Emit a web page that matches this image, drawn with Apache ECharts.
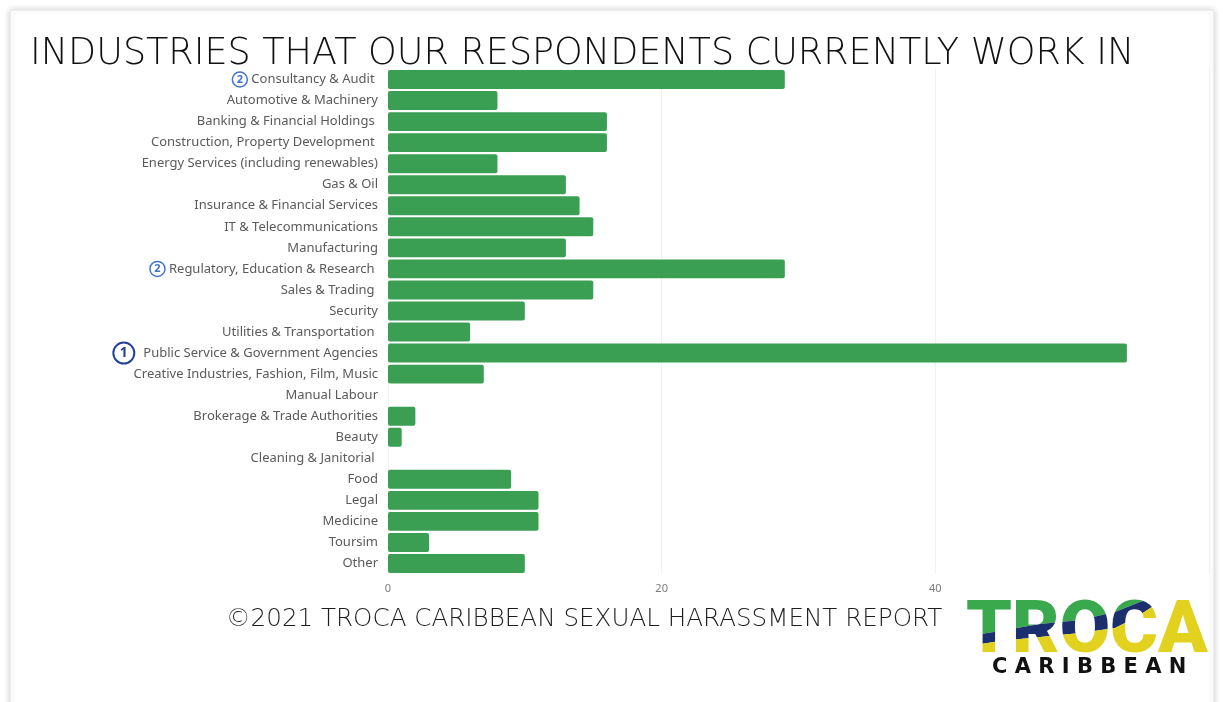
<!DOCTYPE html>
<html>
<head>
<meta charset="utf-8">
<title>Industries that our respondents currently work in</title>
<script src="https://cdn.jsdelivr.net/npm/echarts@6/dist/echarts.min.js"></script>
<style>
  html, body { margin: 0; padding: 0; background: #ffffff; }
  #chart { width: 1223px; height: 702px; }
</style>
</head>
<body>
<div id="chart"></div>
<script>
// Industries (top to bottom as listed in the report)
const industries = [
  'Consultancy & Audit ',
  'Automotive & Machinery',
  'Banking & Financial Holdings ',
  'Construction, Property Development ',
  'Energy Services (including renewables)',
  'Gas & Oil',
  'Insurance & Financial Services',
  'IT & Telecommunications',
  'Manufacturing',
  'Regulatory, Education & Research ',
  'Sales & Trading ',
  'Security',
  'Utilities & Transportation ',
  'Public Service & Government Agencies',
  'Creative Industries, Fashion, Film, Music',
  'Manual Labour',
  'Brokerage & Trade Authorities',
  'Beauty',
  'Cleaning & Janitorial ',
  'Food',
  'Legal',
  'Medicine',
  'Toursim',
  'Other'
];

// Number of respondents per industry
const respondents = [29, 8, 16, 16, 8, 13, 14, 15, 13, 29, 15, 10, 6, 54, 7, 0, 2, 1, 0, 9, 11, 11, 3, 10];

// Rank badges shown beside the leading industries (0 = no badge)
const rankBadges = [2, 0, 0, 0, 0, 0, 0, 0, 0, 2, 0, 0, 0, 1, 0, 0, 0, 0, 0, 0, 0, 0, 0, 0];

// Value axis ticks
const xTickValues = [0, 20, 40, 60];
const xTickLabels = ['0', '20', '40', ''];

const BAR_GREEN = '#3a9f53';

const chart = echarts.init(document.getElementById('chart'), null, { renderer: 'canvas' });

const option = {
  backgroundColor: '#ffffff',
  animation: false,
  title: {
    text: 'INDUSTRIES THAT OUR RESPONDENTS CURRENTLY WORK IN',
    left: 30,
    top: 36,
    padding: 0,
    textStyle: {
      fontFamily: 'DejaVu Sans',
      fontWeight: 200,
      fontSize: 36.5,
      color: '#111111'
    }
  },
  grid: {
    left: 388,
    right: 14,
    top: 69,
    height: 505,
    containLabel: false
  },
  xAxis: {
    type: 'value',
    min: xTickValues[0],
    max: xTickValues[xTickValues.length - 1],
    interval: xTickValues[1] - xTickValues[0],
    axisLine: { show: false },
    axisTick: { show: false },
    splitLine: { show: true, lineStyle: { color: '#f1f1f1', width: 1 } },
    axisLabel: {
      margin: 9,
      color: '#7a7a7a',
      fontFamily: 'Noto Sans',
      fontSize: 11,
      formatter: function (v) {
        const i = xTickValues.indexOf(v);
        return i >= 0 ? xTickLabels[i] : '';
      }
    }
  },
  yAxis: {
    type: 'category',
    inverse: true,
    data: industries,
    axisLine: { show: false },
    axisTick: { show: false },
    splitLine: { show: false },
    axisLabel: {
      margin: 10,
      color: '#5a5a5a',
      fontFamily: 'Noto Sans',
      fontSize: 13,
      formatter: function (value, index) {
        const badge = rankBadges[index];
        if (badge === 1) return '{r1|1}{gap1|}' + value;
        if (badge === 2) return '{r2|2}{gap2|}' + value;
        return value;
      },
      rich: {
        r1: {
          width: 21, height: 21, lineHeight: 21,
          align: 'center', verticalAlign: 'middle',
          borderColor: '#23419a', borderWidth: 2, borderRadius: 12,
          color: '#23419a', fontSize: 14, fontWeight: 'bold',
          fontFamily: 'Noto Sans'
        },
        gap1: { width: 9 },
        r2: {
          width: 15, height: 15, lineHeight: 15,
          align: 'center', verticalAlign: 'middle',
          borderColor: '#4174cc', borderWidth: 1.5, borderRadius: 9,
          color: '#4174cc', fontSize: 11, fontWeight: 'bold',
          fontFamily: 'Noto Sans'
        },
        gap2: { width: 4 }
      }
    }
  },
  series: [{
    type: 'bar',
    data: respondents,
    barCategoryGap: '10%',
    itemStyle: { color: BAR_GREEN, borderRadius: 2 },
    emphasis: { disabled: true }
  }],
  graphic: [
    {
      // card outline around the page
      type: 'rect',
      silent: true,
      z: -10,
      shape: { x: 10, y: 10, width: 1204, height: 700, r: 2 },
      style: {
        fill: '#ffffff',
        stroke: '#e4e4e4',
        lineWidth: 1,
        shadowBlur: 6,
        shadowColor: 'rgba(0,0,0,0.18)'
      }
    },
    {
      type: 'text',
      left: 226,
      top: 607,
      style: {
        text: '\u00a92021 TROCA CARIBBEAN SEXUAL HARASSMENT REPORT',
        fontFamily: 'DejaVu Sans',
        fontWeight: 300,
        fontSize: 24.6,
        fill: '#1e1e1e'
      }
    },
    {
      type: 'text',
      left: 992,
      top: 657,
      style: {
        text: 'C A R I B B E A N',
        fontFamily: 'DejaVu Sans',
        fontWeight: 'bold',
        fontSize: 21,
        fill: '#111111'
      }
    }
  ]
};

chart.setOption(option);

// Logo word mark: the same word drawn three times, each copy clipped to one colour band
const zr = chart.getZr();
const greenNavyEdge = [[950, 639], [1000, 631], [1040, 624], [1080, 620], [1115, 612], [1140, 602], [1160, 596], [1230, 585]];
const navyYellowEdge = [[950, 649], [1000, 641], [1040, 637], [1080, 633], [1115, 628], [1135, 618], [1155, 605], [1163, 598], [1230, 590]];
const logoBands = [
  { color: '#3aa84c', points: [[950, 580], [1230, 580]].concat(greenNavyEdge.slice().reverse()) },
  { color: '#1b2f6e', points: greenNavyEdge.concat(navyYellowEdge.slice().reverse()) },
  { color: '#e2d21f', points: navyYellowEdge.concat([[1230, 670], [950, 670]]) }
];
logoBands.forEach(function (band) {
  const word = new echarts.graphic.Text({
    z: 10,
    silent: true,
    style: {
      text: 'TROCA',
      x: 966,
      y: 597,
      verticalAlign: 'top',
      fontFamily: 'Roboto',
      fontWeight: 900,
      fontSize: 73,
      fill: band.color
    }
  });
  word.setClipPath(new echarts.graphic.Polygon({
    shape: { points: band.points }
  }));
  zr.add(word);
});
</script>
</body>
</html>
